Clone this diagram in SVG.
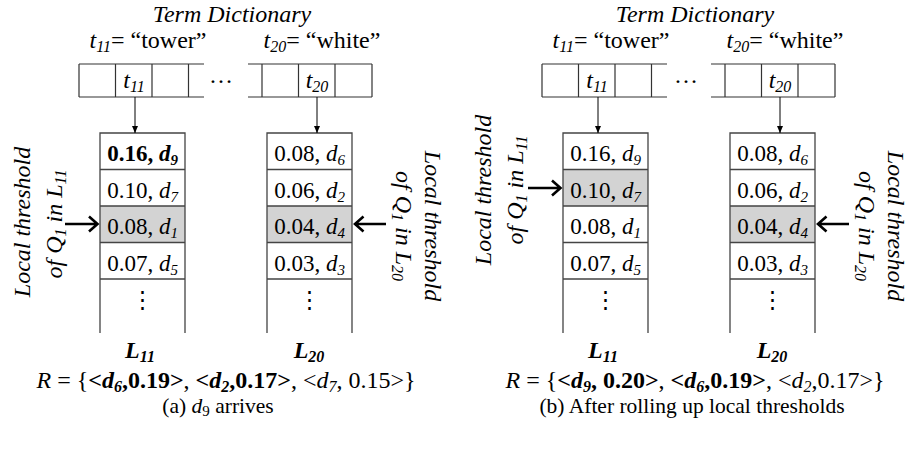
<svg xmlns="http://www.w3.org/2000/svg" width="910" height="454" viewBox="0 0 910 454">
<style>
.t{font-family:"Liberation Serif","DejaVu Serif",serif;font-size:24px;fill:#000}
.l{font-family:"Liberation Serif","DejaVu Serif",serif;font-size:23px;fill:#000}
.c{font-family:"Liberation Serif","DejaVu Serif",serif;font-size:21.5px;fill:#000}
.i{font-style:italic}
.b{font-weight:bold}
.bx{fill:none;stroke:#444;stroke-width:1.3}
.dc{fill:none;stroke:#333;stroke-width:1.2}
.hl{fill:#d3d3d3}
.ar{fill:none;stroke:#000;stroke-width:1}
.tk{fill:none;stroke:#000;stroke-width:2.6}
</style>
<defs>
<marker id="ah" markerWidth="8" markerHeight="8" refX="7" refY="4" orient="auto" markerUnits="userSpaceOnUse"><path d="M0,1 L7,4 L0,7 z" fill="#000"/></marker>
</defs>
<rect width="910" height="454" fill="#fff"/>

<!-- Panel (a) -->
<g id="panel-a">
<g id="a-dict">
<text class="t i" x="232" y="22" text-anchor="middle">Term Dictionary</text>
<text class="t" x="148" y="48" text-anchor="middle"><tspan class="i">t</tspan><tspan class="i" font-size="16" dy="4">11</tspan><tspan dy="-4">= “tower”</tspan></text>
<text class="t" x="322" y="48" text-anchor="middle"><tspan class="i">t</tspan><tspan class="i" font-size="16" dy="4">20</tspan><tspan dy="-4">= “white”</tspan></text>
<path class="dc" d="M79,64 H204 M79,97 H204 M248,64 H372 M248,97 H372 M79,64 V97 M115.5,64 V97 M152,64 V97 M188.5,64 V97 M262,64 V97 M298.5,64 V97 M335,64 V97 M372,64 V97"/>
<text class="t i" x="134" y="88" text-anchor="middle">t<tspan font-size="16" dy="4">11</tspan></text>
<text class="t i" x="317" y="88" text-anchor="middle">t<tspan font-size="16" dy="4">20</tspan></text>
<text class="t" x="221" y="83" text-anchor="middle">…</text>
</g>
<g id="a-L11">
<rect class="hl" x="100" y="206" width="85" height="36.5"/>
<path class="bx" d="M100,333 V133 H185 V333 M100,169.5 H185 M100,206 H185 M100,242.5 H185 M100,279 H185"/>
<text class="l b" x="142.5" y="161" text-anchor="middle">0.16, <tspan class="i">d</tspan><tspan font-size="15" dy="4" class="i">9</tspan></text>
<text class="l" x="142.5" y="197.5" text-anchor="middle">0.10, <tspan class="i">d</tspan><tspan font-size="15" dy="4" class="i">7</tspan></text>
<text class="l" x="142.5" y="234" text-anchor="middle">0.08, <tspan class="i">d</tspan><tspan font-size="15" dy="4" class="i">1</tspan></text>
<text class="l" x="142.5" y="270.5" text-anchor="middle">0.07, <tspan class="i">d</tspan><tspan font-size="15" dy="4" class="i">5</tspan></text>
<text class="l" x="142.5" y="307" text-anchor="middle">⋮</text>
<text class="t b i" x="140" y="358" text-anchor="middle">L<tspan font-size="16" dy="4">11</tspan></text>
</g>
<g id="a-L20">
<rect class="hl" x="267" y="206" width="85" height="36.5"/>
<path class="bx" d="M267,333 V133 H352 V333 M267,169.5 H352 M267,206 H352 M267,242.5 H352 M267,279 H352"/>
<text class="l" x="309.5" y="161" text-anchor="middle">0.08, <tspan class="i">d</tspan><tspan font-size="15" dy="4" class="i">6</tspan></text>
<text class="l" x="309.5" y="197.5" text-anchor="middle">0.06, <tspan class="i">d</tspan><tspan font-size="15" dy="4" class="i">2</tspan></text>
<text class="l" x="309.5" y="234" text-anchor="middle">0.04, <tspan class="i">d</tspan><tspan font-size="15" dy="4" class="i">4</tspan></text>
<text class="l" x="309.5" y="270.5" text-anchor="middle">0.03, <tspan class="i">d</tspan><tspan font-size="15" dy="4" class="i">3</tspan></text>
<text class="l" x="309.5" y="307" text-anchor="middle">⋮</text>
<text class="t b i" x="309" y="358" text-anchor="middle">L<tspan font-size="16" dy="4">20</tspan></text>
</g>
<g id="a-thr-L11">
<text class="t i" transform="translate(30,222) rotate(-90)" text-anchor="middle">Local threshold</text>
<text class="t i" transform="translate(62,224) rotate(-90)" text-anchor="middle">of Q<tspan font-size="16" dy="4">1</tspan><tspan dy="-4"> in L</tspan><tspan font-size="16" dy="4">11</tspan></text>
</g>
<g id="a-thr-L20">
<text class="t i" transform="translate(425,226) rotate(90)" text-anchor="middle">Local threshold</text>
<text class="t i" transform="translate(396,226) rotate(90)" text-anchor="middle">of Q<tspan font-size="16" dy="4">1</tspan><tspan dy="-4"> in L</tspan><tspan font-size="16" dy="4">20</tspan></text>
</g>
<g id="a-result">
<text class="t" x="226" y="388" text-anchor="middle"><tspan class="i">R</tspan> = {<tspan class="b">&lt;<tspan class="i">d</tspan><tspan class="i" font-size="16" dy="4">6</tspan><tspan dy="-4">,0.19&gt;</tspan></tspan>, <tspan class="b">&lt;<tspan class="i">d</tspan><tspan class="i" font-size="16" dy="4">2</tspan><tspan dy="-4">,0.17&gt;</tspan></tspan>, &lt;<tspan class="i">d</tspan><tspan class="i" font-size="16" dy="4">7</tspan><tspan dy="-4">, 0.15&gt;}</tspan></text>
<text class="c" x="218" y="413" text-anchor="middle">(a)  <tspan class="i">d</tspan><tspan font-size="15" dy="3">9</tspan><tspan dy="-3"> arrives</tspan></text>
</g>
</g>

<!-- Panel (b) -->
<g id="panel-b">
<g id="b-dict">
<text class="t i" x="695" y="22" text-anchor="middle">Term Dictionary</text>
<text class="t" x="611" y="48" text-anchor="middle"><tspan class="i">t</tspan><tspan class="i" font-size="16" dy="4">11</tspan><tspan dy="-4">= “tower”</tspan></text>
<text class="t" x="785" y="48" text-anchor="middle"><tspan class="i">t</tspan><tspan class="i" font-size="16" dy="4">20</tspan><tspan dy="-4">= “white”</tspan></text>
<path class="dc" d="M542,64 H667 M542,97 H667 M711,64 H835 M711,97 H835 M542,64 V97 M578.5,64 V97 M615,64 V97 M651.5,64 V97 M725,64 V97 M761.5,64 V97 M798,64 V97 M835,64 V97"/>
<text class="t i" x="597" y="88" text-anchor="middle">t<tspan font-size="16" dy="4">11</tspan></text>
<text class="t i" x="780" y="88" text-anchor="middle">t<tspan font-size="16" dy="4">20</tspan></text>
<text class="t" x="686" y="83" text-anchor="middle">…</text>
</g>
<g id="b-L11">
<rect class="hl" x="563" y="169.5" width="85" height="36.5"/>
<path class="bx" d="M563,333 V133 H648 V333 M563,169.5 H648 M563,206 H648 M563,242.5 H648 M563,279 H648"/>
<text class="l" x="605.5" y="161" text-anchor="middle">0.16, <tspan class="i">d</tspan><tspan font-size="15" dy="4" class="i">9</tspan></text>
<text class="l" x="605.5" y="197.5" text-anchor="middle">0.10, <tspan class="i">d</tspan><tspan font-size="15" dy="4" class="i">7</tspan></text>
<text class="l" x="605.5" y="234" text-anchor="middle">0.08, <tspan class="i">d</tspan><tspan font-size="15" dy="4" class="i">1</tspan></text>
<text class="l" x="605.5" y="270.5" text-anchor="middle">0.07, <tspan class="i">d</tspan><tspan font-size="15" dy="4" class="i">5</tspan></text>
<text class="l" x="605.5" y="307" text-anchor="middle">⋮</text>
<text class="t b i" x="603" y="358" text-anchor="middle">L<tspan font-size="16" dy="4">11</tspan></text>
</g>
<g id="b-L20">
<rect class="hl" x="730" y="206" width="85" height="36.5"/>
<path class="bx" d="M730,333 V133 H815 V333 M730,169.5 H815 M730,206 H815 M730,242.5 H815 M730,279 H815"/>
<text class="l" x="772.5" y="161" text-anchor="middle">0.08, <tspan class="i">d</tspan><tspan font-size="15" dy="4" class="i">6</tspan></text>
<text class="l" x="772.5" y="197.5" text-anchor="middle">0.06, <tspan class="i">d</tspan><tspan font-size="15" dy="4" class="i">2</tspan></text>
<text class="l" x="772.5" y="234" text-anchor="middle">0.04, <tspan class="i">d</tspan><tspan font-size="15" dy="4" class="i">4</tspan></text>
<text class="l" x="772.5" y="270.5" text-anchor="middle">0.03, <tspan class="i">d</tspan><tspan font-size="15" dy="4" class="i">3</tspan></text>
<text class="l" x="772.5" y="307" text-anchor="middle">⋮</text>
<text class="t b i" x="772" y="358" text-anchor="middle">L<tspan font-size="16" dy="4">20</tspan></text>
</g>
<g id="b-thr-L11">
<text class="t i" transform="translate(491,190) rotate(-90)" text-anchor="middle">Local threshold</text>
<text class="t i" transform="translate(523,190) rotate(-90)" text-anchor="middle">of Q<tspan font-size="16" dy="4">1</tspan><tspan dy="-4"> in L</tspan><tspan font-size="16" dy="4">11</tspan></text>
</g>
<g id="b-thr-L20">
<text class="t i" transform="translate(888,226) rotate(90)" text-anchor="middle">Local threshold</text>
<text class="t i" transform="translate(859,226) rotate(90)" text-anchor="middle">of Q<tspan font-size="16" dy="4">1</tspan><tspan dy="-4"> in L</tspan><tspan font-size="16" dy="4">20</tspan></text>
</g>
<g id="b-result">
<text class="t" x="695" y="388" text-anchor="middle"><tspan class="i">R</tspan> = {<tspan class="b">&lt;<tspan class="i">d</tspan><tspan class="i" font-size="16" dy="4">9</tspan><tspan dy="-4">, 0.20&gt;</tspan></tspan>, <tspan class="b">&lt;<tspan class="i">d</tspan><tspan class="i" font-size="16" dy="4">6</tspan><tspan dy="-4">,0.19&gt;</tspan></tspan>, &lt;<tspan class="i">d</tspan><tspan class="i" font-size="16" dy="4">2</tspan><tspan dy="-4">,0.17&gt;}</tspan></text>
<text class="c" x="692" y="413" text-anchor="middle">(b)  After rolling up local thresholds</text>
</g>
</g>

<g id="connectors">
<line class="ar" x1="135" y1="97" x2="135" y2="133" marker-end="url(#ah)"/>
<line class="ar" x1="317" y1="97" x2="317" y2="133" marker-end="url(#ah)"/>
<line class="ar" x1="598" y1="97" x2="598" y2="133" marker-end="url(#ah)"/>
<line class="ar" x1="780" y1="97" x2="780" y2="133" marker-end="url(#ah)"/>
<path class="tk" d="M65,224 H97 M89,216.5 L97.5,224 L89,231.5"/>
<path class="tk" d="M386,224 H355 M363.5,216.5 L355,224 L363.5,231.5"/>
<path class="tk" d="M528,188 H560 M552,180.5 L560.5,188 L552,195.5"/>
<path class="tk" d="M849,224 H818 M826.5,216.5 L818,224 L826.5,231.5"/>
</g>
</svg>
